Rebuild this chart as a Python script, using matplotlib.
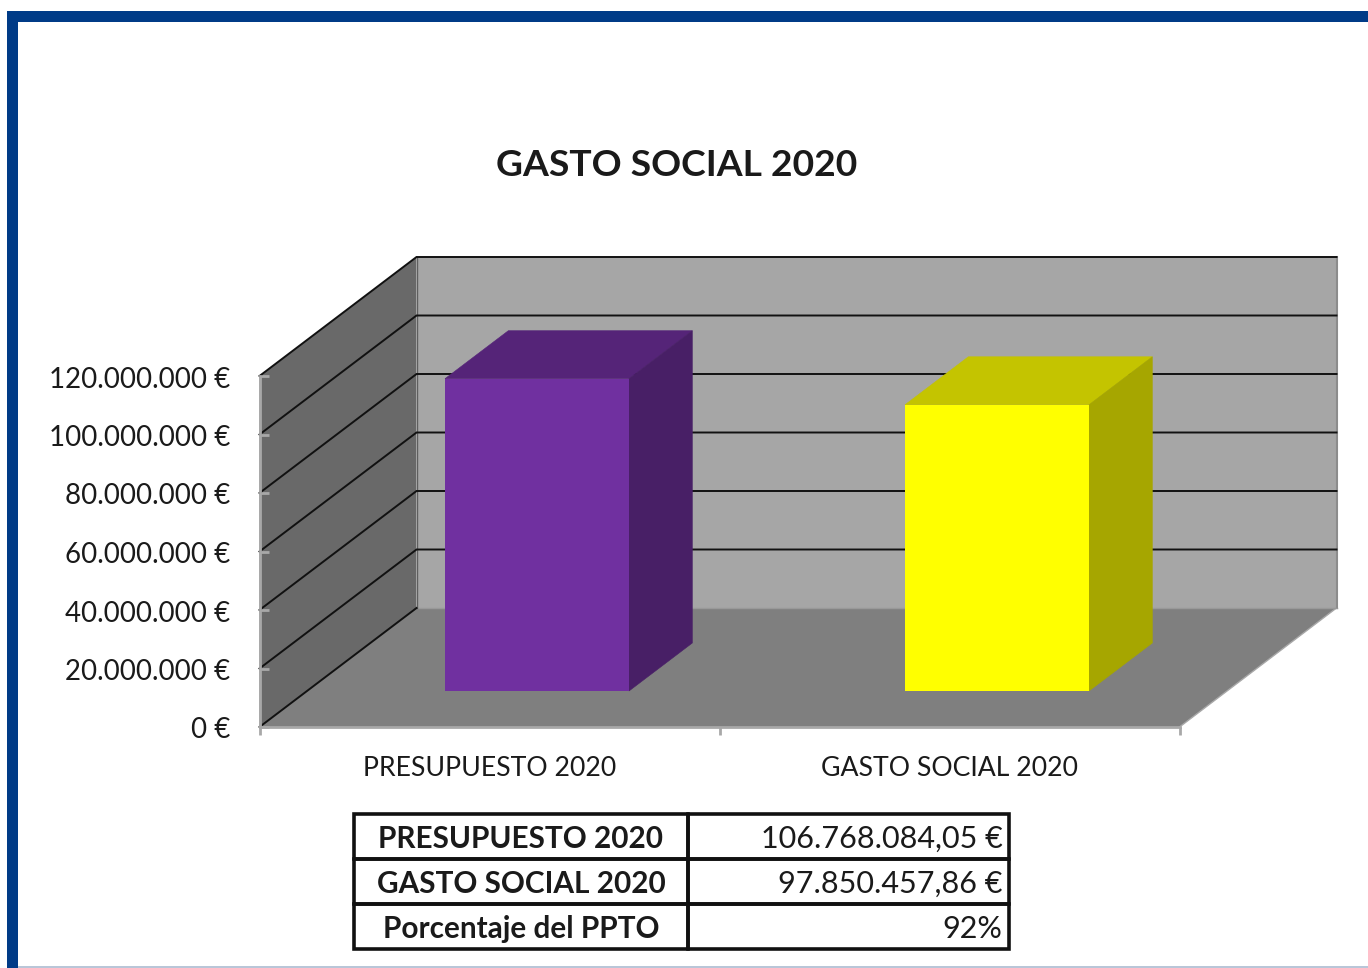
import matplotlib
matplotlib.use("Agg")
import matplotlib.pyplot as plt
from matplotlib.patches import Polygon, Rectangle
from matplotlib.lines import Line2D
from matplotlib.transforms import Affine2D

plt.rcParams['font.family'] = ['Lato', 'DejaVu Sans']

W, H = 1368, 968

title = "GASTO SOCIAL 2020"
categories = ["PRESUPUESTO 2020", "GASTO SOCIAL 2020"]
values = [106768084.05, 97850457.86]
y_ticks = [0, 20000000, 40000000, 60000000, 80000000, 100000000, 120000000]
y_labels = ["0 €", "20.000.000 €", "40.000.000 €", "60.000.000 €",
            "80.000.000 €", "100.000.000 €", "120.000.000 €"]
table_rows = [["PRESUPUESTO 2020", "106.768.084,05 €"],
              ["GASTO SOCIAL 2020", "97.850.457,86 €"],
              ["Porcentaje del PPTO", "92%"]]

front_colors = ["#7030a0", "#ffff00"]
top_colors = ["#552478", "#c4c400"]
side_colors = ["#481f66", "#a6a600"]
TEXT = "#1a1a1a"
GREY = "#a8a8a8"

fig = plt.figure(figsize=(W / 100, H / 100), dpi=100, facecolor="white")

# page frame
bg = fig.add_axes([0, 0, 1, 1])
bg.set_xlim(0, W)
bg.set_ylim(H, 0)
bg.axis("off")
bg.add_patch(Rectangle((7, 11), W - 7, 11, fc="#003b87", ec="none"))
bg.add_patch(Rectangle((7, 11), 11, H - 11, fc="#003b87", ec="none"))
bg.add_patch(Rectangle((18, 966), W - 18, 2, fc="#b9c6d8", ec="none"))
fig.text(677 / W, 1 - 166 / H, title, ha="center", va="center",
         fontsize=26.8, fontweight="bold", color=TEXT)

# chart: front plane of the 3-D box, in category / value units
ax = fig.add_axes([259.5 / W, 1 - 727 / H, 920 / W, 351 / H], facecolor="none")
ax.set_xlim(0, len(categories))
ax.set_ylim(0, y_ticks[-1])
DX = 157 / 460                       # depth in category units
DY = 119 / 351 * y_ticks[-1]         # depth in value units
BAR_W = 0.4
D0, D1 = 36 / 119, 84 / 119          # bar start / end along the depth

def P(x, y, d=0.0):
    return (x + DX * d, y + DY * d)

n = len(categories)
top = y_ticks[-1]
ax.add_patch(Polygon([P(0, 0, 1), P(n, 0, 1), P(n, top, 1), P(0, top, 1)],
                     fc="#a6a6a6", ec="none", clip_on=False, zorder=1))
ax.add_patch(Polygon([P(0, 0), P(0, 0, 1), P(0, top, 1), P(0, top)],
                     fc="#696969", ec="none", clip_on=False, zorder=1))
ax.add_patch(Polygon([P(0, 0), P(n, 0), P(n, 0, 1), P(0, 0, 1)],
                     fc="#7f7f7f", ec="none", clip_on=False, zorder=1))
ax.add_line(Line2D(*zip(P(n, 0), P(n, 0, 1)), color=GREY, lw=1, clip_on=False, zorder=1.5))
ax.add_line(Line2D(*zip(P(n, 0, 1), P(n, top, 1)), color="#8c8c8c", lw=1.5, clip_on=False, zorder=1.5))
ax.add_line(Line2D(*zip(P(0, 0, 1), P(n, 0, 1)), color="#999999", lw=1, clip_on=False, zorder=1.5))
ax.add_line(Line2D(*zip(P(0, 0, 1), P(0, top, 1)), color="#5f5f5f", lw=1, clip_on=False, zorder=1.5))
for t in y_ticks:
    pts = [P(0, t), P(0, t, 1)] + ([P(n, t, 1)] if t > 0 else [])
    ax.add_line(Line2D(*zip(*pts), color="#111111", lw=1.4, clip_on=False, zorder=2,
                       solid_joinstyle="miter"))

for i, v in enumerate(values):
    x0 = i + 0.5 - BAR_W / 2
    x1 = i + 0.5 + BAR_W / 2
    ax.add_patch(Polygon([P(x0, v, D0), P(x1, v, D0), P(x1, v, D1), P(x0, v, D1)],
                         fc=top_colors[i], ec=top_colors[i], lw=0.4, clip_on=False, zorder=3))
    ax.add_patch(Polygon([P(x1, 0, D0), P(x1, 0, D1), P(x1, v, D1), P(x1, v, D0)],
                         fc=side_colors[i], ec=side_colors[i], lw=0.4, clip_on=False, zorder=3))
    ax.add_patch(Polygon([P(x0, 0, D0), P(x1, 0, D0), P(x1, v, D0), P(x0, v, D0)],
                         fc=front_colors[i], ec="none", clip_on=False, zorder=4))

for s in ("top", "right"):
    ax.spines[s].set_visible(False)
for s in ("left", "bottom"):
    ax.spines[s].set_color(GREY)
    ax.spines[s].set_linewidth(2)
    ax.spines[s].set_zorder(5)
ax.set_yticks(y_ticks, y_labels)
ax.tick_params(axis="y", direction="in", length=6.5, width=2, color=GREY, pad=21,
               labelsize=19.9, labelcolor=TEXT)
ax.set_xticks(range(n + 1), [""] * (n + 1))
ax.set_xticks([i + 0.5 for i in range(n)], categories, minor=True)
ax.tick_params(axis="x", which="major", direction="out", length=6, width=2, color=GREY)
ax.tick_params(axis="x", which="minor", length=0, pad=21, labelsize=19.2, labelcolor=TEXT)
for tk in ax.get_yticklabels():
    tk.set_va("center")
    tk.set_transform(tk.get_transform() + Affine2D().translate(0, -3.5))

# table under the chart
tx0, tx1 = 354 / W, 1009 / W
ty0, ty1 = 1 - 949 / H, 1 - 814 / H
tax = fig.add_axes([0, 0, 1, 1], facecolor="none")
tax.axis("off")
tbl = tax.table(cellText=table_rows, colWidths=[334 / 655, 321 / 655],
                bbox=[tx0, ty0, tx1 - tx0, ty1 - ty0], transform=fig.transFigure)
tbl.auto_set_font_size(False)
for (r, c), cell in tbl.get_celld().items():
    cell.set_linewidth(2.6)
    cell.set_edgecolor("#111111")
    cell.set_facecolor("none")
    cell.PAD = 0.02
    cell.set_fontsize(21.4 if c == 0 else 22)
    cell.set_text_props(color=TEXT, fontweight="bold" if c == 0 else "normal",
                        ha="center" if c == 0 else "right")
    cell.get_text().set_transform(Affine2D().translate(0, -2.5))

fig.savefig("out.png", dpi=100)
